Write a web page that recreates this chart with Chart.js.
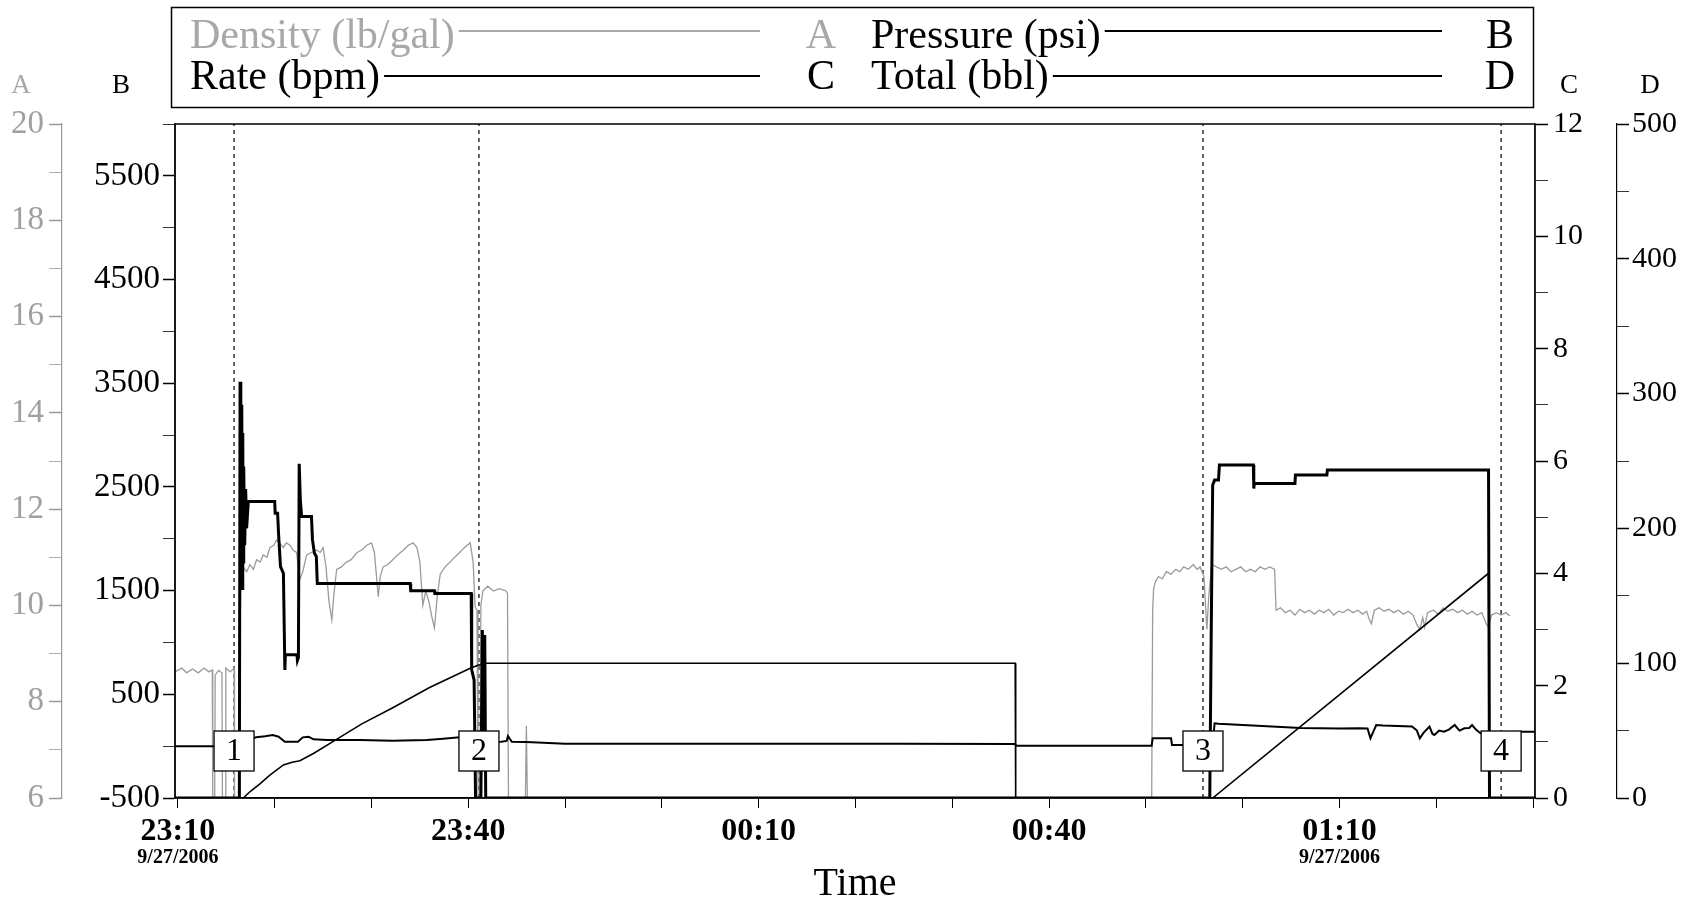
<!DOCTYPE html>
<html>
<head>
<meta charset="utf-8">
<title>Job chart 9/27/2006</title>
<script src="https://cdn.jsdelivr.net/npm/chart.js@4.4.1/dist/chart.umd.min.js"></script>
<style>
  html, body { margin: 0; padding: 0; background: #fff; }
  #wrap { width: 1694px; height: 902px; }
</style>
</head>
<body>
<div id="wrap"><canvas id="job-canvas" width="1694" height="902"></canvas></div>
<script>
// time axis is in minutes after 23:10
const timeMin = -0.3;
const timeMax = 140.2;
const timeTickVals = [0, 10, 20, 30, 40, 50, 60, 70, 80, 90, 100, 110, 120, 130, 140];
const timeLabelVals = [0, 30, 60, 90, 120];
const timeLabels = ['23:10', '23:40', '00:10', '00:40', '01:10'];
const dateLabelVals = [0, 120];
const dateLabel = '9/27/2006';

const legendNames = ['Density (lb/gal)', 'Pressure (psi)', 'Rate (bpm)', 'Total (bbl)'];
const legendAxes = ['A', 'B', 'C', 'D'];

const eventTimes = [5.8, 31.1, 105.9, 136.7];
const eventNames = ['1', '2', '3', '4'];

// [minute, bpm]
const rateSeries = [
  [-0.3, 0], [6.35, 0], [6.42, 7.41], [6.5, 6.9], [6.55, 4.0], [6.6, 7.0], [6.65, 3.73],
  [6.7, 6.5], [6.75, 4.2], [6.8, 5.9], [6.9, 4.5], [7.0, 5.5], [7.1, 4.8], [7.27, 5.28],
  [10.0, 5.28], [10.05, 5.07], [10.3, 5.07], [10.4, 4.7], [10.6, 4.12], [10.9, 4.0],
  [11.05, 2.28], [11.1, 2.55], [12.3, 2.55], [12.35, 2.45], [12.45, 2.5], [12.53, 5.95],
  [12.65, 5.3], [12.78, 5.01], [13.8, 5.01], [13.9, 4.6], [14.1, 4.36], [14.3, 4.3],
  [14.4, 3.82], [24.0, 3.82], [24.05, 3.69], [26.5, 3.69], [26.55, 3.64], [30.3, 3.64],
  [30.35, 2.28], [30.6, 2.1], [30.75, 0], [31.3, 0], [31.45, 2.99], [31.6, 0.5],
  [31.7, 2.9], [31.8, 0], [106.6, 0], [106.75, 2.93], [106.9, 5.57], [107.1, 5.66],
  [107.5, 5.66], [107.6, 5.93], [111.1, 5.93], [111.15, 5.51], [111.2, 5.6], [115.4, 5.6],
  [115.45, 5.75], [118.7, 5.75], [118.75, 5.84], [135.4, 5.84], [135.5, 0], [140.2, 0]
];

// [minute, psi]
const pressureSeries = [
  [-0.3, 0], [5.0, 0], [8.1, 85], [9.0, 95], [9.8, 107], [10.4, 91], [11.05, 43],
  [12.4, 43], [12.9, 85], [13.5, 91], [14.0, 66], [15.4, 60], [18.8, 60], [22.2, 53],
  [25.7, 60], [27.4, 72], [29.1, 85], [30.3, 80], [31.0, 40], [33.4, 43], [33.96, 50],
  [34.1, 97], [34.5, 43], [36.0, 40], [40.0, 22], [60.0, 22], [75.0, 22], [86.5, 20],
  [86.6, 5], [100.6, 5], [100.7, 76], [102.6, 76], [102.7, 11], [106.9, 11], [107.1, 220],
  [107.5, 215], [108.5, 212], [110.0, 205], [112.0, 195], [114.0, 185], [116.0, 175],
  [118.0, 172], [120.0, 170], [122.0, 172], [122.9, 170], [123.2, 76], [123.5, 140],
  [123.8, 204], [124.5, 200], [126.0, 195], [127.5, 190], [128.0, 150], [128.3, 76],
  [128.7, 130], [129.3, 188], [129.6, 120], [129.8, 108], [130.3, 150], [130.8, 140],
  [131.3, 160], [131.9, 204], [132.4, 150], [132.9, 172], [133.4, 175], [133.7, 204],
  [134.1, 160], [134.5, 130], [134.9, 108], [136.5, 120], [138.7, 140], [140.2, 140]
];

// [minute, bbl]
const totalSeries = [
  [-0.3, 0], [6.75, 0], [7.5, 5], [8.47, 10.5], [9.5, 17], [10.9, 24.5], [11.8, 26.5],
  [12.6, 27.7], [14.0, 33], [16.05, 42], [19.0, 55], [22.2, 67], [26.0, 82], [30.2, 96.2],
  [31.0, 98.5], [31.8, 100], [86.5, 100], [86.55, 0], [106.9, 0], [135.4, 166.7],
  [135.5, 0], [140.2, 0]
];

// [minute, lb/gal]
const densitySeries = [
  [-0.3, 8.62], [0.4, 8.7], [0.9, 8.6], [1.5, 8.68], [2.1, 8.6], [2.7, 8.7], [3.2, 8.62],
  [3.55, 8.66], [3.6, 6.0], [3.8, 6.0], [3.85, 8.55], [4.2, 8.65], [4.55, 8.6], [4.6, 6.0],
  [4.9, 6.0], [4.95, 8.7], [5.4, 8.62], [5.8, 8.7], [5.85, 6.0], [6.3, 6.0], [6.35, 8.8],
  [6.5, 10.4], [6.75, 10.8], [7.1, 10.7], [7.44, 10.85], [7.8, 10.75], [8.13, 10.95],
  [8.5, 10.9], [8.81, 11.05], [9.2, 11.0], [9.5, 11.2], [9.9, 11.25], [10.19, 11.36],
  [10.5, 11.3], [10.88, 11.2], [11.2, 11.3], [11.57, 11.25], [11.9, 11.15], [12.26, 11.1],
  [12.6, 10.55], [12.9, 10.7], [13.3, 11.05], [13.8, 11.1], [14.3, 11.15], [14.7, 11.1],
  [15.0, 11.2], [15.3, 10.8], [15.6, 10.1], [15.9, 9.7], [16.1, 10.2], [16.4, 10.75],
  [16.9, 10.8], [17.4, 10.9], [17.9, 10.95], [18.5, 11.1], [19.0, 11.15], [19.5, 11.25],
  [20.0, 11.3], [20.3, 11.1], [20.7, 10.18], [20.9, 10.6], [21.2, 10.8], [21.7, 10.85],
  [22.2, 10.95], [22.7, 11.05], [23.3, 11.15], [23.8, 11.25], [24.3, 11.3], [24.7, 11.2],
  [25.0, 10.9], [25.3, 10.0], [25.6, 10.3], [25.9, 10.1], [26.2, 9.8], [26.5, 9.53],
  [26.8, 10.2], [27.1, 10.65], [27.6, 10.8], [28.1, 10.9], [28.6, 11.0], [29.1, 11.1],
  [29.6, 11.2], [30.2, 11.3], [30.5, 10.9], [30.7, 9.97], [30.9, 9.9], [31.0, 6.0],
  [31.2, 6.0], [31.3, 10.0], [31.5, 10.3], [32.0, 10.4], [32.6, 10.3], [33.2, 10.35],
  [33.9, 10.3], [34.05, 10.25], [34.15, 6.0], [35.9, 6.0], [36.0, 7.5], [36.1, 6.0],
  [100.6, 6.0], [100.7, 9.9], [100.8, 10.35], [101.0, 10.5], [101.3, 10.6], [101.7, 10.55],
  [102.1, 10.7], [102.6, 10.65], [103.1, 10.75], [103.5, 10.7], [103.9, 10.8], [104.4, 10.75],
  [104.9, 10.85], [105.3, 10.75], [105.6, 10.8], [106.0, 10.6], [106.3, 9.5], [106.5, 10.2],
  [106.8, 10.85], [107.3, 10.8], [107.8, 10.75], [108.3, 10.8], [108.8, 10.7], [109.3, 10.75],
  [109.8, 10.8], [110.3, 10.7], [110.8, 10.75], [111.3, 10.7], [111.8, 10.8], [112.3, 10.75],
  [112.8, 10.8], [113.3, 10.75], [113.45, 9.9], [113.9, 9.95], [114.4, 9.85], [114.9, 9.9],
  [115.4, 9.8], [115.9, 9.92], [116.4, 9.85], [116.9, 9.9], [117.4, 9.82], [117.9, 9.9],
  [118.4, 9.85], [118.9, 9.92], [119.4, 9.8], [119.9, 9.88], [120.4, 9.85], [120.9, 9.92],
  [121.4, 9.85], [121.9, 9.9], [122.4, 9.82], [122.8, 9.88], [123.1, 9.7], [123.3, 9.62],
  [123.6, 9.9], [124.1, 9.95], [124.6, 9.88], [125.1, 9.92], [125.6, 9.85], [126.1, 9.9],
  [126.6, 9.82], [127.1, 9.88], [127.6, 9.8], [128.0, 9.6], [128.3, 9.5], [128.6, 9.75],
  [128.8, 9.55], [129.1, 9.85], [129.7, 9.9], [130.2, 9.82], [130.7, 9.95], [131.2, 9.88],
  [131.7, 9.92], [132.2, 9.85], [132.7, 9.9], [133.2, 9.82], [133.7, 9.88], [134.2, 9.8],
  [134.7, 9.85], [135.2, 9.6], [135.4, 9.55], [135.7, 9.8], [136.2, 9.85], [136.7, 9.8],
  [137.2, 9.85], [137.6, 9.78]
];

const serif = '"Liberation Serif", "Times New Roman", serif';
const toPoints = series => series.map(p => ({ x: p[0], y: p[1] }));

// each event line runs from the bottom to the top of the pressure axis, gaps between them
const markerPoints = [];
eventTimes.forEach(t => {
  markerPoints.push({ x: t, y: -500 }, { x: t, y: 6000 }, { x: t, y: null });
});

const notesPlugin = {
  id: 'notes',
  afterDatasetsDraw(chart) {
    const { ctx, chartArea: ca, scales } = chart;
    ctx.save();
    ctx.strokeStyle = '#000';
    ctx.lineWidth = 1.5;
    ctx.strokeRect(ca.left, ca.top, ca.right - ca.left, ca.bottom - ca.top);

    // numbered event boxes
    ctx.font = '32px ' + serif;
    ctx.textAlign = 'center';
    ctx.textBaseline = 'middle';
    ctx.lineWidth = 1.3;
    eventTimes.forEach((t, i) => {
      const x = scales.x.getPixelForValue(t);
      const y = ca.bottom - 47;
      ctx.fillStyle = '#fff';
      ctx.fillRect(x - 20, y - 20, 40, 40);
      ctx.strokeRect(x - 20, y - 20, 40, 40);
      ctx.fillStyle = '#000';
      ctx.fillText(eventNames[i], x, y + 1);
    });
    ctx.restore();
  },
  afterDraw(chart) {
    const { ctx, scales } = chart;
    ctx.save();
    // legend box
    ctx.strokeStyle = '#000';
    ctx.lineWidth = 1.5;
    ctx.strokeRect(171.5, 7.5, 1362, 100);
    ctx.font = '42px ' + serif;
    ctx.textBaseline = 'alphabetic';
    const colX = [190, 871];
    const lineEnd = [760, 1442];
    const letterX = [821, 1500];
    const baseY = [48, 89];
    const lineY = [31, 76];
    legendNames.forEach((name, i) => {
      const row = Math.floor(i / 2), col = i % 2;
      const color = i === 0 ? '#a8a8a8' : '#000';
      ctx.fillStyle = color;
      ctx.textAlign = 'left';
      ctx.fillText(name, colX[col], baseY[row]);
      const w = ctx.measureText(name).width;
      ctx.strokeStyle = color;
      ctx.lineWidth = 2;
      ctx.beginPath();
      ctx.moveTo(colX[col] + w + 4, lineY[row]);
      ctx.lineTo(lineEnd[col], lineY[row]);
      ctx.stroke();
      ctx.textAlign = 'center';
      ctx.fillText(legendAxes[i], letterX[col], baseY[row]);
    });

    // axis letters above each y axis
    ctx.font = '27px ' + serif;
    ctx.textAlign = 'center';
    const letterPos = [scales.a.right - 41, scales.b.right - 54, scales.c.left + 34, scales.d.left + 33];
    legendAxes.forEach((letter, i) => {
      ctx.fillStyle = i === 0 ? '#a8a8a8' : '#000';
      ctx.fillText(letter, letterPos[i], 93);
    });
    ctx.restore();
  }
};

const ctx = document.getElementById('job-canvas').getContext('2d');

new Chart(ctx, {
  type: 'line',
  data: {
    datasets: [
      {
        label: 'Rate (bpm)',
        data: toPoints(rateSeries),
        xAxisID: 'x', yAxisID: 'c',
        borderColor: '#000', borderWidth: 3, pointRadius: 0, tension: 0
      },
      {
        label: 'Pressure (psi)',
        data: toPoints(pressureSeries),
        xAxisID: 'x', yAxisID: 'b',
        borderColor: '#000', borderWidth: 2, pointRadius: 0, tension: 0
      },
      {
        label: 'Total (bbl)',
        data: toPoints(totalSeries),
        xAxisID: 'x', yAxisID: 'd',
        borderColor: '#000', borderWidth: 1.6, pointRadius: 0, tension: 0
      },
      {
        label: 'Density (lb/gal)',
        data: toPoints(densitySeries),
        xAxisID: 'x', yAxisID: 'a',
        borderColor: '#9b9b9b', borderWidth: 1.3, pointRadius: 0, tension: 0
      },
      {
        label: 'events',
        data: markerPoints,
        xAxisID: 'x', yAxisID: 'b',
        borderColor: '#000', borderWidth: 1.2, borderDash: [4, 4],
        pointRadius: 0, spanGaps: false
      }
    ]
  },
  options: {
    responsive: false,
    animation: false,
    devicePixelRatio: 1,
    layout: { padding: { top: 124, left: 0, right: 0, bottom: 0 } },
    plugins: { legend: { display: false }, tooltip: { enabled: false } },
    scales: {
      x: {
        type: 'linear', position: 'bottom', weight: 0,
        min: timeMin, max: timeMax,
        afterBuildTicks: s => { s.ticks = timeTickVals.map(v => ({ value: v })); },
        ticks: {
          autoSkip: false, maxRotation: 0, padding: 5, color: '#000',
          font: { family: serif, size: 32, weight: 'bold' },
          callback: v => {
            const i = timeLabelVals.indexOf(v);
            return i >= 0 ? timeLabels[i] : '';
          }
        },
        grid: { drawOnChartArea: false, tickLength: 10, tickColor: '#000' },
        border: { color: '#000', width: 1.5 },
        afterFit: s => { s.height = 42; }
      },
      x2: {
        type: 'linear', position: 'bottom', weight: 1,
        min: timeMin, max: timeMax,
        afterBuildTicks: s => { s.ticks = dateLabelVals.map(v => ({ value: v })); },
        ticks: {
          autoSkip: false, maxRotation: 0, padding: 6, color: '#000',
          font: { family: serif, size: 20, weight: 'bold' },
          callback: () => dateLabel
        },
        grid: { display: false, drawTicks: false },
        border: { display: false },
        title: {
          display: true, text: 'Time', color: '#000',
          font: { family: serif, size: 40, lineHeight: 0.9 },
          padding: { top: 0, bottom: 0 }
        },
        afterFit: s => { s.height = 62; }
      },
      b: {
        type: 'linear', position: 'left', weight: 0,
        min: -500, max: 6000,
        ticks: {
          stepSize: 500, padding: 3, color: '#000',
          font: { family: serif, size: 33 },
          callback: v => ((v + 500) % 1000 === 0 && v < 6000) ? String(v) : ''
        },
        grid: {
          drawOnChartArea: false, tickLength: 12, tickColor: '#000',
          tickWidth: c => (c.tick && (c.tick.value + 500) % 1000 === 0) ? 1.5 : 0.8
        },
        border: { color: '#666', width: 2 },
        afterFit: s => { s.width = 113; }
      },
      a: {
        type: 'linear', position: 'left', weight: 1,
        min: 6, max: 20,
        ticks: {
          stepSize: 1, padding: 5, color: '#a0a0a0',
          font: { family: serif, size: 33 },
          callback: v => v % 2 === 0 ? String(v) : ''
        },
        grid: {
          drawOnChartArea: false, tickLength: 13, tickColor: '#999',
          tickWidth: c => (c.tick && c.tick.value % 2 === 0) ? 1.5 : 0.8
        },
        border: { color: '#999', width: 1.2 },
        afterFit: s => { s.width = 62; }
      },
      c: {
        type: 'linear', position: 'right', weight: 0,
        min: 0, max: 12,
        ticks: {
          stepSize: 1, padding: 5, color: '#000',
          font: { family: serif, size: 30 },
          callback: v => v % 2 === 0 ? String(v) : ''
        },
        grid: {
          drawOnChartArea: false, tickLength: 13, tickColor: '#000',
          tickWidth: c => (c.tick && c.tick.value % 2 === 0) ? 1.5 : 0.8
        },
        border: { color: '#666', width: 1.5 },
        afterFit: s => { s.width = 82; }
      },
      d: {
        type: 'linear', position: 'right', weight: 1,
        min: 0, max: 500,
        ticks: {
          stepSize: 50, padding: 3, color: '#000',
          font: { family: serif, size: 30 },
          callback: v => v % 100 === 0 ? String(v) : ''
        },
        grid: {
          drawOnChartArea: false, tickLength: 12, tickColor: '#000',
          tickWidth: c => (c.tick && c.tick.value % 100 === 0) ? 1.5 : 0.8
        },
        border: { color: '#000', width: 1.2 },
        afterFit: s => { s.width = 77; }
      }
    }
  },
  plugins: [notesPlugin]
});
</script>
</body>
</html>
